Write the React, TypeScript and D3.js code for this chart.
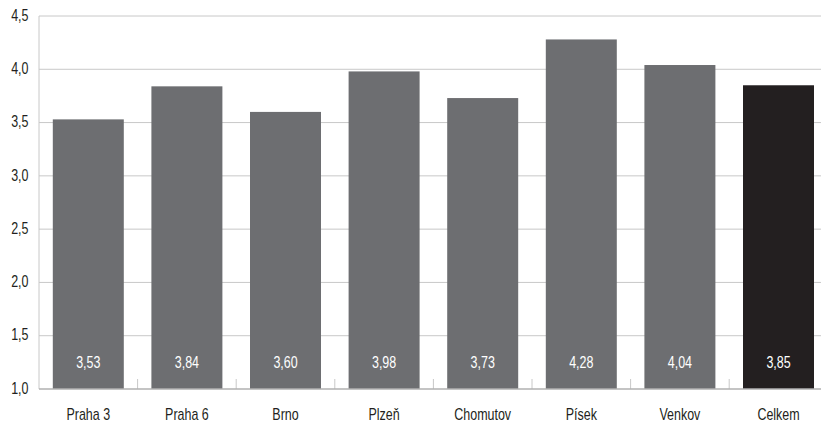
import React from "react";
import * as d3 from "d3";

const categories = ["Praha 3", "Praha 6", "Brno", "Plzeň", "Chomutov", "Písek", "Venkov", "Celkem"];
const values = [3.53, 3.84, 3.6, 3.98, 3.73, 4.28, 4.04, 3.85];
const yTicks = [1.0, 1.5, 2.0, 2.5, 3.0, 3.5, 4.0, 4.5];

const W = 821;
const H = 422;
const FONT = "'Liberation Sans', Arial, sans-serif";
const SX = 0.78;
const fmt = (v: number, d: number) => v.toFixed(d).replace(".", ",");

function T(props: { x: number; y: number; anchor: string; fill: string; children: React.ReactNode }) {
  return (
    <text
      transform={`translate(${props.x},${props.y}) scale(${SX},1)`}
      dy="0.36em"
      textAnchor={props.anchor}
      fontSize={16}
      fill={props.fill}
    >
      {props.children}
    </text>
  );
}

export default function App() {
  const left = 39;
  const top = 16;
  const bottom = 389;
  const step = 98.6;
  const x = d3
    .scaleBand<string>()
    .domain(categories)
    .range([left, left + step * categories.length])
    .paddingInner(0.28)
    .paddingOuter(0.14);
  const y = d3.scaleLinear().domain([1.0, 4.5]).range([bottom, top]);
  const bw = x.bandwidth();

  return (
    <svg width={W} height={H} style={{ position: "absolute", left: 0, top: 0 }} fontFamily={FONT}>
      <rect width={W} height={H} fill="#ffffff" />
      {yTicks.map((t) => (
        <g key={t}>
          {t > 1.0 && (
            <line x1={left} x2={W} y1={y(t)} y2={y(t)} stroke="#c8c8c8" strokeWidth={1} />
          )}
          <T x={28.5} y={y(t) - 1} anchor="end" fill="#231f20">
            {fmt(t, 1)}
          </T>
        </g>
      ))}
      <line x1={left} x2={left} y1={top} y2={bottom} stroke="#c8c8c8" strokeWidth={1} />
      {categories.slice(1).map((c, i) => {
        const xx = left + step * (i + 1);
        return <line key={c} x1={xx} x2={xx} y1={bottom - 10} y2={bottom} stroke="#c8c8c8" strokeWidth={1} />;
      })}
      {categories.map((c, i) => (
        <g key={c}>
          <rect
            x={x(c)}
            y={y(values[i])}
            width={bw}
            height={bottom - y(values[i])}
            fill={c === "Celkem" ? "#231f20" : "#6d6e71"}
          />
          <T x={(x(c) as number) + bw / 2} y={362} anchor="middle" fill="#ffffff">
            {fmt(values[i], 2)}
          </T>
          <T x={(x(c) as number) + bw / 2} y={414} anchor="middle" fill="#231f20">
            {c}
          </T>
        </g>
      ))}
      <line x1={left} x2={W} y1={bottom} y2={bottom} stroke="#b0b0b0" strokeWidth={1.5} />
    </svg>
  );
}
